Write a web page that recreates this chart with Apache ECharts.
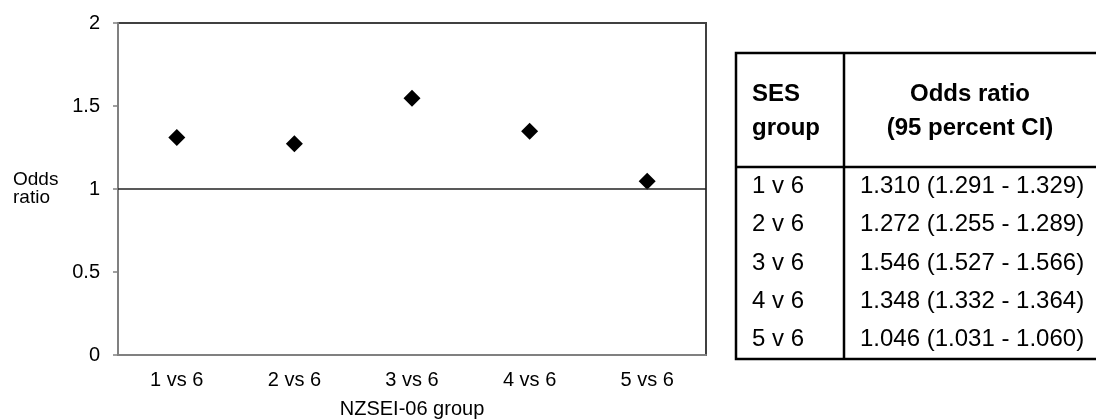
<!DOCTYPE html>
<html>
<head>
<meta charset="utf-8">
<script src="https://cdn.jsdelivr.net/npm/echarts@6/dist/echarts.min.js"></script>
<style>
html,body{margin:0;padding:0;background:#fff;}
#chart{width:1096px;height:419px;}
</style>
</head>
<body>
<div id="chart"></div>
<script>
// data
var categories = ['1 vs 6', '2 vs 6', '3 vs 6', '4 vs 6', '5 vs 6'];
var sesGroups = ['1 v 6', '2 v 6', '3 v 6', '4 v 6', '5 v 6'];
var oddsRatio = [1.310, 1.272, 1.546, 1.348, 1.046];
var ciLower = [1.291, 1.255, 1.527, 1.332, 1.031];
var ciUpper = [1.329, 1.289, 1.566, 1.364, 1.060];
var yMin = 0, yMax = 2, yStep = 0.5;
var refLine = 1;

var FONT = '"Liberation Sans", Arial, sans-serif';
var chart = echarts.init(document.getElementById('chart'));

// table on the right, drawn with graphic elements
var tbl = {left: 736, top: 53, headBottom: 167, bottom: 359, colSep: 844, right: 1120};
var rowH = (tbl.bottom - tbl.headBottom) / sesGroups.length;
var headFont = 'bold 24px ' + FONT;
var cellFont = '24px ' + FONT;
var graphics = [
    {type: 'rect', shape: {x: tbl.left, y: tbl.top, width: tbl.right - tbl.left, height: tbl.bottom - tbl.top},
        style: {fill: 'none', stroke: '#000', lineWidth: 2.5}},
    {type: 'line', shape: {x1: tbl.left, y1: tbl.headBottom, x2: tbl.right, y2: tbl.headBottom},
        style: {stroke: '#000', lineWidth: 2.5}},
    {type: 'line', shape: {x1: tbl.colSep, y1: tbl.top, x2: tbl.colSep, y2: tbl.bottom},
        style: {stroke: '#000', lineWidth: 2.5}},
    {type: 'text', style: {x: 752, y: 94, text: 'SES', font: headFont, fill: '#000', align: 'left', verticalAlign: 'middle'}},
    {type: 'text', style: {x: 752, y: 128, text: 'group', font: headFont, fill: '#000', align: 'left', verticalAlign: 'middle'}},
    {type: 'text', style: {x: 970, y: 94, text: 'Odds ratio', font: headFont, fill: '#000', align: 'center', verticalAlign: 'middle'}},
    {type: 'text', style: {x: 970, y: 128, text: '(95 percent CI)', font: headFont, fill: '#000', align: 'center', verticalAlign: 'middle'}}
];
sesGroups.forEach(function (g, i) {
    var cy = tbl.headBottom + rowH * (i + 0.5);
    graphics.push({type: 'text', style: {x: 752, y: cy, text: g, font: cellFont, fill: '#000', align: 'left', verticalAlign: 'middle'}});
    graphics.push({type: 'text', style: {x: 860, y: cy,
        text: oddsRatio[i].toFixed(3) + ' (' + ciLower[i].toFixed(3) + ' - ' + ciUpper[i].toFixed(3) + ')',
        font: cellFont, fill: '#000', align: 'left', verticalAlign: 'middle'}});
});

var option = {
    animation: false,
    backgroundColor: '#fff',
    textStyle: {fontFamily: FONT},
    grid: {
        left: 118, top: 23, right: 390, bottom: 64,
        outerBoundsMode: 'none',
        show: true,
        borderColor: '#404040',
        borderWidth: 2
    },
    xAxis: {
        type: 'category',
        data: categories,
        boundaryGap: true,
        name: 'NZSEI-06 group',
        nameLocation: 'middle',
        nameGap: 44,
        nameTextStyle: {fontSize: 20, color: '#000', fontFamily: FONT},
        axisLine: {lineStyle: {color: '#808080', width: 2}},
        axisTick: {show: false},
        axisLabel: {fontSize: 20, color: '#000', margin: 15, fontFamily: FONT},
        splitLine: {show: false}
    },
    yAxis: {
        type: 'value',
        min: yMin, max: yMax, interval: yStep,
        name: 'Odds\nratio',
        nameLocation: 'middle',
        nameRotate: 0,
        nameGap: 105,
        nameTextStyle: {fontSize: 19, color: '#000', align: 'left', lineHeight: 18, fontFamily: FONT},
        axisLine: {show: true, lineStyle: {color: '#808080', width: 2}},
        axisTick: {show: true, length: 5, lineStyle: {color: '#808080', width: 1.5}},
        axisLabel: {fontSize: 20, color: '#000', margin: 18, fontFamily: FONT},
        splitLine: {show: false}
    },
    series: [{
        type: 'scatter',
        data: oddsRatio,
        symbol: 'diamond',
        symbolSize: 17,
        itemStyle: {color: '#000', opacity: 1},
        markLine: {
            silent: true,
            symbol: 'none',
            label: {show: false},
            lineStyle: {color: '#222', width: 1.5, type: 'solid'},
            data: [{yAxis: refLine}]
        }
    }],
    graphic: graphics
};

chart.setOption(option);
</script>
</body>
</html>
